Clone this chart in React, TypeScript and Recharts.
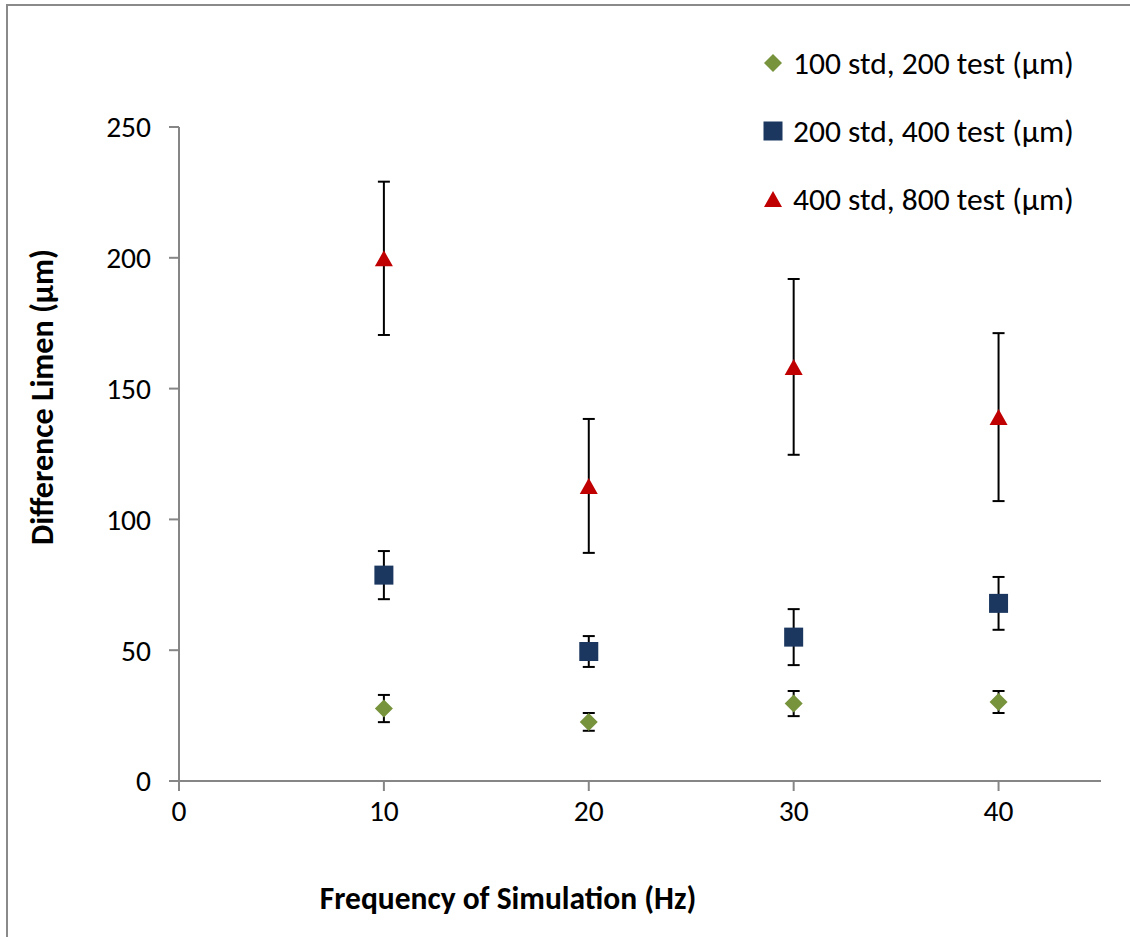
import { ScatterChart, Scatter, XAxis, YAxis, ErrorBar, Legend } from 'recharts';

const frequencies = [10, 20, 30, 40];

const smallMeans = [27.7, 22.6, 29.6, 30.2];
const smallErrors = [5.2, 3.4, 4.8, 4.2];

const mediumMeans = [78.7, 49.5, 55, 67.9];
const mediumErrors = [9.2, 5.9, 10.7, 10.1];

const largeMeans = [199.8, 112.8, 158.3, 139.1];
const largeErrors = [29.3, 25.6, 33.6, 32.1];

const xTicks = [0, 10, 20, 30, 40];
const yTicks = [0, 50, 100, 150, 200, 250];

const font = "Carlito, Calibri, Lato, sans-serif";
const axisGrey = '#868686';

const toPoints = (means: number[], errs: number[]) =>
  frequencies.map((f, i) => ({ x: f, y: means[i], err: errs[i] }));

const diamond = (cx: number, cy: number, fill: string) => (
  <path d={`M${cx},${cy - 9}L${cx + 9},${cy}L${cx},${cy + 9}L${cx - 9},${cy}Z`} fill={fill} />
);
const square = (cx: number, cy: number, fill: string) => (
  <rect x={cx - 9.5} y={cy - 9.5} width={19} height={19} fill={fill} />
);
const triangle = (cx: number, cy: number, fill: string) => (
  <path d={`M${cx},${cy - 8}L${cx + 9},${cy + 8}L${cx - 9},${cy + 8}Z`} fill={fill} />
);

const series = [
  { name: '100 std, 200 test (µm)', color: '#77933C', draw: diamond, data: toPoints(smallMeans, smallErrors) },
  { name: '200 std, 400 test (µm)', color: '#1B3760', draw: square, data: toPoints(mediumMeans, mediumErrors) },
  { name: '400 std, 800 test (µm)', color: '#C00000', draw: triangle, data: toPoints(largeMeans, largeErrors) },
];

const renderLegend = () => (
  <div style={{ fontFamily: font, fontSize: 31.5, color: '#000', whiteSpace: 'nowrap' }}>
    {series.map((s) => (
      <div key={s.name} style={{ display: 'flex', alignItems: 'center', height: 68 }}>
        <svg width={22} height={22} style={{ marginRight: 9 }}>
          {s.draw(11, 11, s.color)}
        </svg>
        <span>{s.name}</span>
      </div>
    ))}
  </div>
);

export default function App() {
  return (
    <div style={{ position: 'absolute', left: 0, top: 0, width: 1130, height: 937, background: '#fff', overflow: 'hidden' }}>
      <div
        style={{
          position: 'absolute',
          left: 6,
          top: 4,
          width: 1130,
          height: 940,
          borderLeft: '2px solid #8a8a8a',
          borderTop: '2px solid #8a8a8a',
        }}
      />
      <ScatterChart
        width={1130}
        height={937}
        margin={{ top: 127, right: 29, bottom: 96, left: 0 }}
        style={{ position: 'absolute', left: 0, top: 0 }}
      >
        <XAxis
          type="number"
          dataKey="x"
          domain={[0, 45]}
          ticks={xTicks}
          height={60}
          stroke={axisGrey}
          strokeWidth={2}
          tickSize={10}
          tickMargin={9}
          tick={{ fill: '#000', fontSize: 29.5, fontFamily: font }}
          label={{
            content: () => (
              <text x={508} y={909} textAnchor="middle" fontFamily={font} fontSize={31.5} fontWeight="bold" fill="#000">
                Frequency of Simulation (Hz)
              </text>
            ),
          }}
        />
        <YAxis
          type="number"
          dataKey="y"
          domain={[0, 250]}
          ticks={yTicks}
          width={179}
          stroke={axisGrey}
          strokeWidth={2}
          tickSize={10}
          tickMargin={18}
          tick={{ fill: '#000', fontSize: 29.5, fontFamily: font }}
          label={{
            content: () => (
              <text
                x={42}
                y={397}
                transform="rotate(-90 42 397)"
                textAnchor="middle"
                dominantBaseline="central"
                fontFamily={font}
                fontSize={32}
                fontWeight="bold"
                fill="#000"
              >
                Difference Limen (µm)
              </text>
            ),
          }}
        />
        <Legend
          layout="vertical"
          align="center"
          verticalAlign="middle"
          content={renderLegend}
          wrapperStyle={{ left: 762, top: 29, width: 'auto' }}
        />
        {series.map((s) => (
          <Scatter
            key={s.name}
            name={s.name}
            data={s.data}
            fill={s.color}
            isAnimationActive={false}
            shape={(p: any) => s.draw(p.cx, p.cy, s.color)}
          >
            <ErrorBar dataKey="err" direction="y" width={6} stroke="#000" strokeWidth={2} />
          </Scatter>
        ))}
      </ScatterChart>
    </div>
  );
}
